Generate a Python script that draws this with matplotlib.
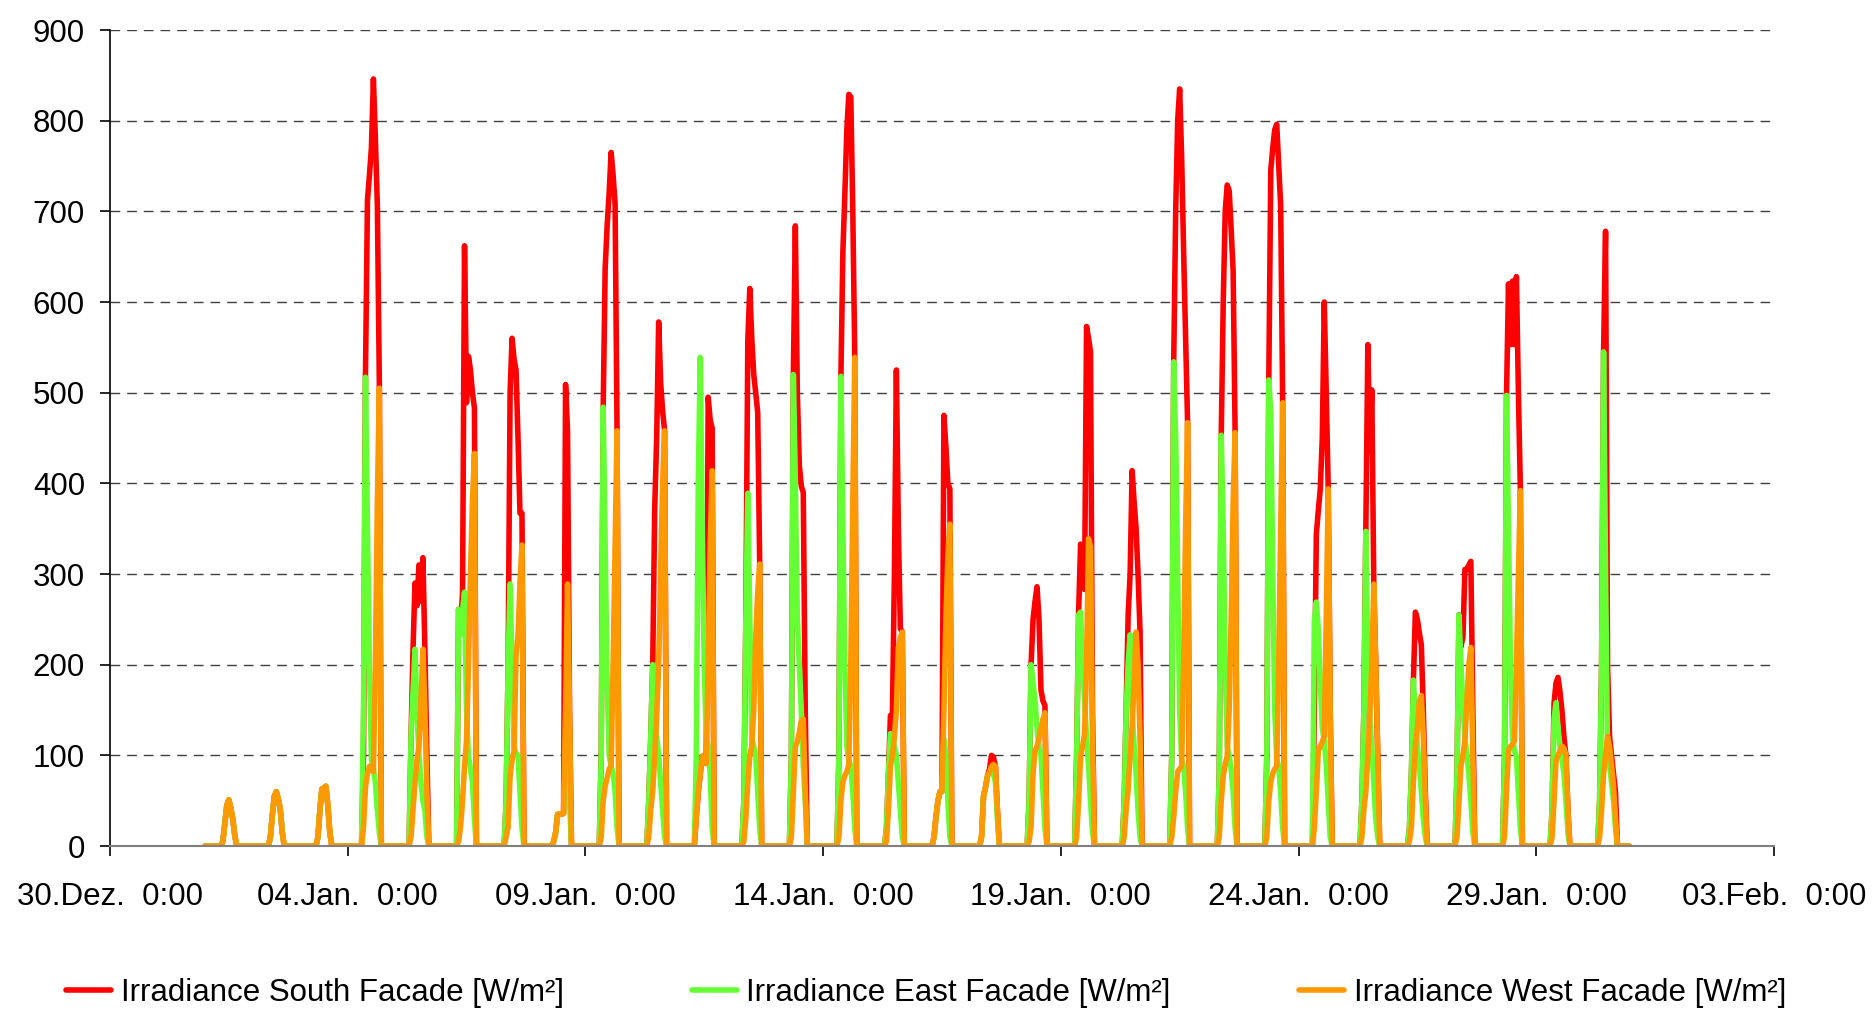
import numpy as np
import matplotlib
matplotlib.use("Agg")
import matplotlib.pyplot as plt

plt.rcParams['font.family'] = ['Liberation Sans', 'DejaVu Sans']

# hourly irradiance per day (Jan 1 .. Jan 30), values for hours 8..16, zero otherwise
day_hours = [8, 9, 10, 11, 12, 13, 14, 15, 16]

south = [
    [0, 5, 25, 45, 51, 42, 30, 12, 0],
    [0, 10, 35, 55, 60, 52, 40, 15, 0],
    [0, 10, 40, 63, 64, 66, 45, 15, 0],
    [100, 520, 712, 740, 770, 846, 780, 706, 510],
    [120, 217, 290, 265, 310, 270, 318, 217, 100],
    [261, 240, 280, 662, 489, 540, 525, 500, 483],
    [50, 200, 500, 560, 537, 525, 450, 367, 367],
    [5, 15, 35, 35, 35, 36, 509, 458, 150],
    [100, 484, 637, 684, 720, 765, 740, 709, 458],
    [50, 120, 200, 372, 450, 578, 511, 480, 458],
    [32, 60, 80, 99, 95, 91, 495, 470, 461],
    [50, 250, 557, 615, 560, 520, 500, 478, 311],
    [100, 520, 684, 500, 420, 397, 390, 150, 0],
    [100, 518, 656, 720, 790, 829, 826, 700, 539],
    [20, 80, 144, 145, 300, 525, 350, 240, 236],
    [10, 32, 50, 60, 60, 475, 440, 400, 394],
    [10, 55, 65, 77, 85, 100, 98, 88, 40],
    [50, 200, 250, 270, 286, 250, 172, 160, 155],
    [100, 258, 333, 300, 283, 573, 560, 545, 150],
    [50, 150, 255, 300, 414, 380, 350, 300, 236],
    [100, 534, 700, 800, 835, 760, 656, 560, 467],
    [80, 453, 600, 700, 729, 723, 680, 634, 456],
    [100, 514, 745, 770, 790, 796, 750, 706, 489],
    [150, 344, 370, 394, 450, 600, 500, 394, 150],
    [50, 150, 347, 553, 436, 503, 289, 200, 100],
    [20, 80, 183, 258, 250, 235, 222, 150, 60],
    [80, 255, 220, 230, 305, 305, 310, 314, 150],
    [100, 497, 620, 553, 623, 553, 628, 500, 392],
    [40, 158, 180, 186, 170, 149, 120, 100, 40],
    [50, 200, 545, 678, 200, 121, 100, 80, 60],
]

east = [
    [0, 5, 25, 45, 51, 42, 30, 12, 0],
    [0, 10, 35, 55, 60, 52, 40, 15, 0],
    [0, 10, 40, 63, 64, 66, 45, 15, 0],
    [150, 517, 350, 200, 95, 85, 70, 40, 15],
    [120, 170, 217, 150, 100, 70, 50, 40, 10],
    [261, 233, 260, 280, 150, 99, 85, 71, 30],
    [50, 200, 289, 200, 110, 102, 100, 60, 20],
    [5, 15, 35, 35, 35, 36, 100, 110, 50],
    [100, 484, 330, 180, 100, 88, 80, 60, 20],
    [50, 120, 200, 150, 120, 100, 70, 40, 10],
    [100, 400, 539, 350, 200, 120, 110, 80, 20],
    [50, 250, 389, 250, 120, 110, 100, 60, 20],
    [100, 520, 400, 250, 200, 150, 88, 50, 0],
    [100, 518, 350, 200, 110, 95, 88, 60, 20],
    [20, 80, 124, 120, 110, 100, 70, 40, 10],
    [10, 32, 50, 60, 60, 118, 100, 50, 10],
    [10, 55, 65, 77, 80, 85, 80, 70, 30],
    [50, 200, 180, 160, 130, 110, 100, 60, 20],
    [100, 255, 258, 200, 160, 120, 90, 50, 15],
    [50, 150, 200, 233, 150, 110, 80, 40, 10],
    [100, 534, 450, 300, 150, 95, 88, 60, 20],
    [80, 453, 350, 200, 110, 99, 85, 60, 20],
    [100, 514, 478, 300, 150, 95, 88, 60, 20],
    [249, 269, 238, 180, 130, 116, 90, 50, 10],
    [50, 150, 347, 200, 140, 110, 70, 30, 10],
    [20, 80, 183, 140, 110, 90, 60, 30, 10],
    [80, 255, 200, 155, 120, 100, 80, 50, 15],
    [100, 497, 350, 200, 120, 105, 99, 60, 20],
    [40, 140, 158, 130, 110, 95, 80, 50, 15],
    [50, 200, 545, 300, 100, 90, 70, 50, 20],
]

west = [
    [0, 5, 25, 45, 51, 42, 30, 12, 0],
    [0, 10, 35, 55, 60, 52, 40, 15, 0],
    [0, 10, 40, 63, 64, 66, 45, 15, 0],
    [20, 65, 80, 88, 85, 82, 200, 380, 505],
    [10, 40, 70, 95, 110, 160, 217, 150, 60],
    [5, 21, 50, 88, 116, 200, 300, 380, 433],
    [10, 21, 77, 95, 105, 210, 233, 290, 332],
    [5, 15, 35, 35, 35, 36, 150, 289, 150],
    [10, 50, 66, 75, 85, 88, 200, 330, 458],
    [10, 40, 60, 100, 144, 200, 300, 400, 458],
    [32, 60, 80, 99, 95, 91, 200, 330, 414],
    [5, 30, 70, 99, 110, 150, 230, 280, 311],
    [10, 60, 110, 115, 125, 138, 140, 60, 0],
    [10, 50, 71, 78, 82, 90, 200, 380, 539],
    [5, 40, 88, 100, 120, 150, 219, 230, 236],
    [10, 32, 50, 60, 60, 150, 250, 320, 355],
    [10, 55, 65, 77, 82, 88, 90, 88, 40],
    [5, 21, 80, 105, 110, 119, 130, 140, 147],
    [10, 50, 99, 110, 124, 200, 339, 330, 120],
    [10, 40, 63, 100, 133, 180, 236, 200, 120],
    [10, 32, 60, 82, 85, 88, 200, 350, 467],
    [10, 50, 77, 90, 99, 150, 250, 380, 456],
    [10, 50, 71, 80, 85, 88, 200, 350, 489],
    [20, 60, 105, 110, 115, 121, 250, 394, 150],
    [10, 40, 60, 100, 144, 200, 289, 200, 100],
    [5, 21, 70, 110, 130, 160, 166, 120, 50],
    [10, 50, 88, 100, 116, 160, 200, 219, 100],
    [10, 60, 105, 110, 112, 116, 200, 300, 392],
    [10, 50, 94, 100, 105, 110, 108, 100, 40],
    [10, 40, 80, 100, 121, 110, 90, 66, 30],
]

series_labels = ['Irradiance South Facade [W/m²]',
                 'Irradiance East Facade [W/m²]',
                 'Irradiance West Facade [W/m²]']
series_colors = ['#FF0000', '#66FF33', '#FF9900']

tick_days = [0, 5, 10, 15, 20, 25, 30, 35]   # days since 30.Dez 0:00
tick_labels = ['30.Dez.  0:00', '04.Jan.  0:00', '09.Jan.  0:00', '14.Jan.  0:00',
               '19.Jan.  0:00', '24.Jan.  0:00', '29.Jan.  0:00', '03.Feb.  0:00']
first_day = 2   # Jan 1 is 2 days after 30.Dez


def hourly(profiles):
    vals = np.zeros(len(profiles) * 24)
    for d, prof in enumerate(profiles):
        for h, v in zip(day_hours, prof):
            vals[d * 24 + h] = v
    return vals


t = first_day + np.arange(len(south) * 24) / 24.0

fig = plt.figure(figsize=(18.76, 10.17), dpi=100)
ax = fig.add_axes([0.0586, 0.1681, 0.887, 0.8024])

handles = []
for prof, lab, col in zip([south, east, west], series_labels, series_colors):
    ln, = ax.plot(t, hourly(prof), color=col, lw=4.0, label=lab,
                  solid_joinstyle='round', solid_capstyle='round')
    handles.append(ln)

ax.set_xlim(0, 35)
ax.set_ylim(0, 900)
ax.set_yticks(range(0, 1000, 100))
ax.set_xticks(tick_days)
ax.set_xticklabels(tick_labels)
ax.tick_params(axis='both', labelsize=22.5, direction='out', length=7, width=1.2,
               colors='#000000')
ax.tick_params(axis='y', pad=11)
ax.tick_params(axis='x', pad=19)

ax.yaxis.grid(True, color='#404040', lw=1.0, linestyle=(0, (7, 5)))
ax.set_axisbelow(True)
for s in ['top', 'right']:
    ax.spines[s].set_visible(False)
ax.spines['left'].set_color('#000000')
ax.spines['left'].set_linewidth(1.2)
ax.spines['bottom'].set_color('#808080')
ax.spines['bottom'].set_linewidth(1.5)

fig.legend(handles=handles, loc='center', bbox_to_anchor=(0.4936, 0.0232),
           ncol=3, frameon=False, fontsize=22.5, handlelength=1.45,
           handletextpad=0.3, columnspacing=4.1)

fig.savefig('out.png', dpi=100)
